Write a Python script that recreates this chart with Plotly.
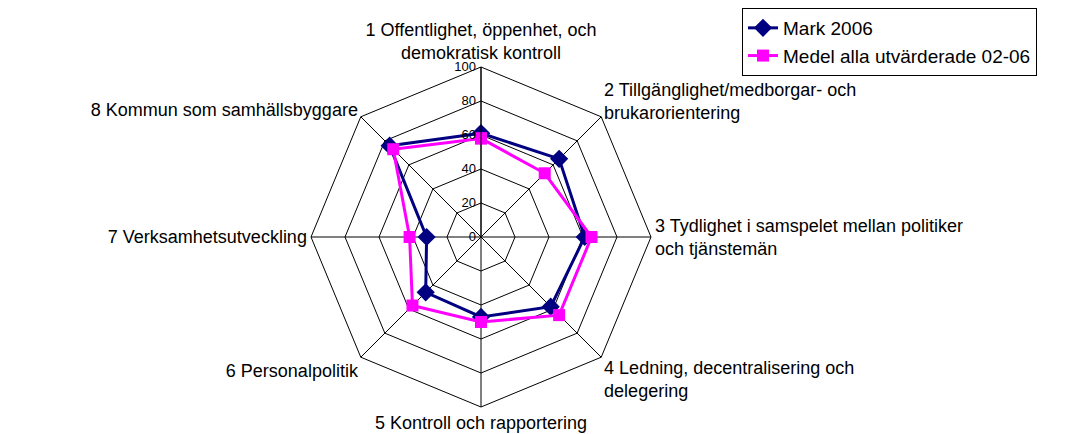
import plotly.graph_objects as go

categories = [
    "1 Offentlighet, öppenhet, och<br>demokratisk kontroll",
    "2 Tillgänglighet/medborgar- och<br>brukarorientering",
    "3 Tydlighet i samspelet mellan politiker<br>och tjänstemän",
    "4 Ledning, decentralisering och<br>delegering",
    "5 Kontroll och rapportering",
    "6 Personalpolitik",
    "7 Verksamhetsutveckling",
    "8 Kommun som samhällsbyggare",
]
mark_2006 = [61, 65, 61, 58, 47, 46, 32, 76]
medel_02_06 = [58, 53, 65, 65, 50, 57, 42, 73]
radial_ticks = [0, 20, 40, 60, 80, 100]

W, H = 1067, 434
cx, cy, R = 481, 237, 170

fig = go.Figure()
fig.add_trace(go.Scatterpolar(
    r=mark_2006 + mark_2006[:1], theta=categories + categories[:1],
    mode="lines+markers", name="Mark 2006",
    line=dict(color="#000080", width=3),
    marker=dict(symbol="diamond", size=14, color="#000080"),
))
fig.add_trace(go.Scatterpolar(
    r=medel_02_06 + medel_02_06[:1], theta=categories + categories[:1],
    mode="lines+markers", name="Medel alla utvärderade 02-06",
    line=dict(color="#FF00FF", width=3),
    marker=dict(symbol="square", size=12, color="#FF00FF"),
))

fig.update_layout(
    width=W, height=H,
    margin=dict(l=0, r=0, t=0, b=0),
    paper_bgcolor="white", plot_bgcolor="white",
    font=dict(family="Liberation Sans, Arial, sans-serif", color="black", size=18),
    polar=dict(
        domain=dict(x=[(cx - R) / W, (cx + R) / W], y=[(H - cy - R) / H, (H - cy + R) / H]),
        bgcolor="white",
        gridshape="linear",
        radialaxis=dict(
            range=[0, 100], tickvals=radial_ticks, angle=90, tickangle=90,
            side="counterclockwise",
            showline=True, linecolor="black", linewidth=1,
            gridcolor="black", gridwidth=1,
            ticks="", tickfont=dict(size=13, color="black"),
        ),
        angularaxis=dict(
            rotation=90, direction="clockwise",
            showline=True, linecolor="black", linewidth=1,
            gridcolor="black", gridwidth=1,
            ticks="", tickfont=dict(size=18, color="black"),
        ),
    ),
    legend=dict(
        x=742 / W, y=1 - 8 / H, xanchor="left", yanchor="top",
        bordercolor="black", borderwidth=1, bgcolor="white",
        font=dict(size=19, color="black"),
        tracegroupgap=0,
    ),
)

fig.write_html("out.html", config={"displayModeBar": False},
               post_script="document.body.style.margin='0';")
